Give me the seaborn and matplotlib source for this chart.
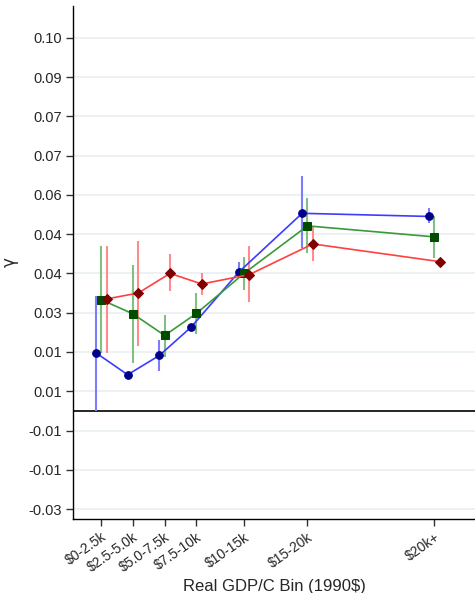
import numpy as np
import pandas as pd
import seaborn as sns
import matplotlib.pyplot as plt

# income bins and their midpoints (thousand 1990$)
bins = ["\\$0-2.5k", "\\$2.5-5.0k", "\\$5.0-7.5k", "\\$7.5-10k", "\\$10-15k", "\\$15-20k", "\\$20k+"]
bin_mid = [1.25, 3.75, 6.25, 8.75, 12.5, 17.5, 27.5]

# three estimates of gamma per bin, with interval ends (nan = no bar)
blue = [0.0148, 0.0092, 0.0141, 0.0213, 0.0353, 0.0503, 0.0495]
blue_lo = [0.0000, np.nan, 0.0102, np.nan, 0.0340, 0.0414, 0.0478]
blue_hi = [0.0293, np.nan, 0.0181, np.nan, 0.0378, 0.0598, 0.0516]

green = [0.0283, 0.0247, 0.0192, 0.0248, 0.0350, 0.0471, 0.0443]
green_lo = [0.0147, 0.0123, 0.0138, 0.0196, 0.0308, 0.0401, 0.0389]
green_hi = [0.0420, 0.0372, 0.0244, 0.0299, 0.0391, 0.0541, 0.0496]

red = [0.0285, 0.0300, 0.0350, 0.0323, 0.0347, 0.0425, 0.0380]
red_lo = [0.0147, 0.0166, 0.0304, 0.0296, 0.0276, 0.0382, np.nan]
red_hi = [0.0420, 0.0433, 0.0399, 0.0352, 0.0420, 0.0467, np.nan]

# tick labels exactly as printed on the original axis
ytick_vals = [-0.025, -0.015, -0.005, 0.005, 0.015, 0.025, 0.035, 0.045, 0.055, 0.065, 0.075, 0.085, 0.095]
ytick_labels = ["-0.03", "-0.01", "-0.01", "0.01", "0.01", "0.03", "0.04", "0.04", "0.06", "0.07", "0.07", "0.09", "0.10"]

sns.set_style("white")
plt.rcParams['font.family'] = ['Liberation Sans', 'DejaVu Sans']

series = [
    ("blue", blue, blue_lo, blue_hi, -0.42, "o", 5.5, "#3c3cff", "#00008b", "#7c7cff"),
    ("green", green, green_lo, green_hi, 0.0, "s", 5.5, "#3a9a3a", "#004d00", "#80c080"),
    ("red", red, red_lo, red_hi, 0.42, "D", 5.5, "#ff4040", "#800000", "#ff8c8c"),
]

frames = []
for name, vals, lo, hi, off, *_ in series:
    frames.append(pd.DataFrame({"x": np.array(bin_mid) + off, "gamma": vals,
                                "lo": lo, "hi": hi, "model": name}))
df = pd.concat(frames, ignore_index=True)

fig = plt.figure(figsize=(4.75, 5.93), dpi=100)
ax = fig.add_axes([0.154, 0.125, 0.846, 0.865])

for tv in ytick_vals:
    ax.axhline(tv, color="#ebf0f3", lw=1.3, zorder=0)
ax.axhline(0, color="black", lw=1.2, zorder=1)

for name, vals, lo, hi, off, mk, ms, lc, mc, ec in series:
    d = df[df["model"] == name]
    ax.vlines(d["x"], d["lo"], d["hi"], color=ec, lw=1.5, zorder=2)
    sns.lineplot(data=d, x="x", y="gamma", ax=ax, color=lc, lw=1.2,
                 marker=mk, markersize=ms, markerfacecolor=mc,
                 markeredgecolor=mc, zorder=3, legend=False)

ax.set_xlim(-0.96, 30.7)
ax.set_ylim(-0.0275, 0.1031)
ax.set_xticks(bin_mid)
ax.set_xticklabels(bins, rotation=35, ha="right", rotation_mode="anchor", fontsize=10)
ax.set_yticks(ytick_vals)
ax.set_yticklabels(ytick_labels, fontsize=10.5)
ax.tick_params(axis="both", direction="out", length=5, width=1, color="#333333",
               bottom=True, left=True, pad=3)
ax.set_xlabel("Real GDP/C Bin (1990\\$)", fontsize=12, labelpad=3)
ax.set_ylabel("γ", fontsize=12, family="DejaVu Sans")
ax.yaxis.set_label_coords(-0.135, 0.5)

for s in ["top", "right"]:
    ax.spines[s].set_visible(False)
for s in ["left", "bottom"]:
    ax.spines[s].set_color("black")
    ax.spines[s].set_linewidth(1.0)

fig.savefig("out.png", dpi=100)
